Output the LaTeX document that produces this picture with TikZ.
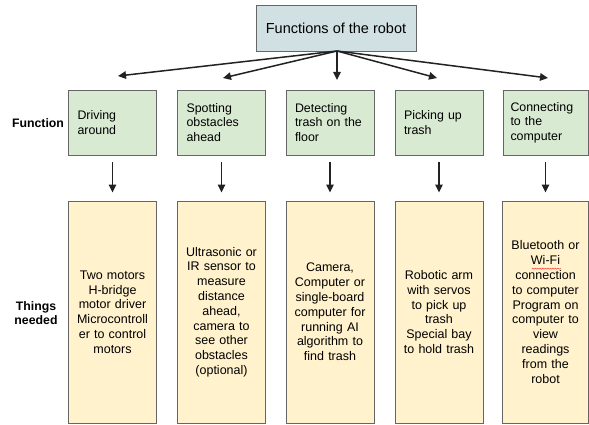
\documentclass[tikz,border=0pt]{standalone}
\usepackage{fontspec}
\setmainfont{Liberation Sans}
\usetikzlibrary{arrows.meta,decorations.pathmorphing}

\definecolor{titlefill}{HTML}{D0E0E3}
\definecolor{funcfill}{HTML}{D9EAD3}
\definecolor{needfill}{HTML}{FFF2CC}
\definecolor{boxline}{HTML}{666666}
\definecolor{arrowline}{HTML}{222222}

\tikzset{
  titlebox/.style={draw=boxline, line width=0.9pt, fill=titlefill,
    minimum width=160pt, minimum height=46pt, inner sep=0pt,
    font=\fontsize{14.5}{17}\selectfont},
  funcbox/.style={draw=boxline, line width=0.9pt, fill=funcfill,
    minimum width=88pt, minimum height=65pt, inner sep=0pt,
    text width=70pt, align=left, font=\fontsize{12.4}{14.5}\selectfont},
  needbox/.style={draw=boxline, line width=0.9pt, fill=needfill,
    minimum width=88pt, minimum height=222pt, inner sep=0pt,
    text width=86pt, align=center, font=\fontsize{12.5}{14.8}\selectfont},
  rowlabel/.style={align=center, font=\bfseries\fontsize{12.3}{14.5}\selectfont},
  link/.style={draw=arrowline, line width=1.5pt,
    -{Triangle[length=8pt,width=7.5pt]}}
}

\begin{document}
\begin{tikzpicture}[x=1pt,y=-1pt]
  \useasboundingbox (0,0) rectangle (589,425);

  % root of the tree
  \node[titlebox] (root) at (336,28) {Functions of the robot};

  % row labels
  \node[rowlabel] (lfunc) at (38,123) {Function};
  \node[rowlabel] (lneed) at (36,313) {Things\\needed};

  % functions
  \node[funcbox] (f1) at (112.5,122.5) {Driving\\around};
  \node[funcbox] (f2) at (221.5,122.5) {Spotting\\obstacles\\ahead};
  \node[funcbox] (f3) at (330,122.5) {Detecting\\trash on the\\floor};
  \node[funcbox] (f4) at (439,122.5) {Picking up\\trash};
  \node[funcbox, minimum width=85pt] (f5) at (545.5,122.5) {Connecting\\to the\\computer};

  % things needed for each function
  \node[needbox] (n1) at (112.5,312) {Two motors\\H-bridge\\motor driver\\Microcontroll\\er to control\\motors};
  \node[needbox] (n2) at (221.5,312) {Ultrasonic or\\IR sensor to\\measure\\distance\\ahead,\\camera to\\see other\\obstacles\\(optional)};
  \node[needbox] (n3) at (330,312) {Camera,\\Computer or\\single-board\\computer for\\running AI\\algorithm to\\find trash};
  \node[needbox] (n4) at (439,312) {Robotic arm\\with servos\\to pick up\\trash\\Special bay\\to hold trash};
  \node[needbox, minimum width=85pt] (n5) at (545.5,312) {Bluetooth or\\Wi-Fi\\connection\\to computer\\Program on\\computer to\\view\\readings\\from the\\robot};

  % spell-check mark under "Wi-Fi"
  \draw[red!80!white, line width=0.5pt, decorate,
        decoration={snake, amplitude=0.5pt, segment length=2.5pt}]
        (532,268.7) -- (561,268.7);

  % fan-out from the root
  \coordinate (root-out) at (337,51);
  \coordinate (t1) at (118,76);
  \coordinate (t2) at (223,78);
  \coordinate (t3) at (337,80);
  \coordinate (t4) at (437,78);
  \coordinate (t5) at (548,78);
  \foreach \t in {t1,t2,t3,t4,t5}
    \draw[link] (root-out) -- (\t);

  % function -> things needed
  \foreach \i in {1,...,5}
    \draw[link, shorten <=7pt, shorten >=8pt] (f\i.south) -- (n\i.north);
\end{tikzpicture}
\end{document}
